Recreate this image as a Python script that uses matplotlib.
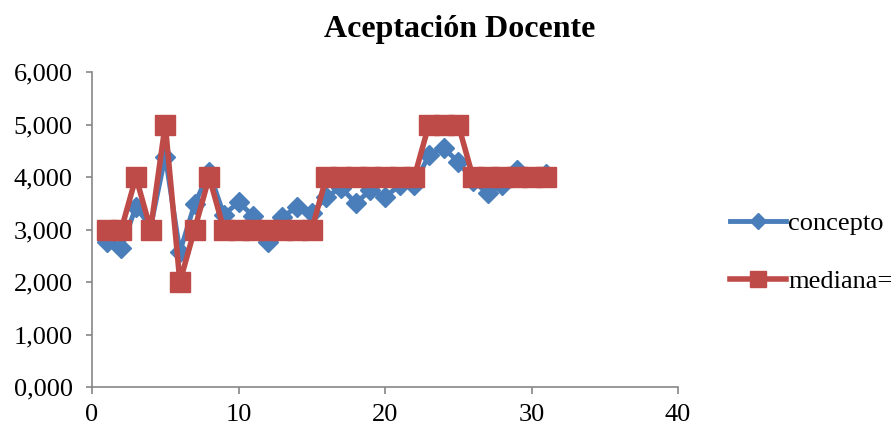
import matplotlib.pyplot as plt
from matplotlib.ticker import FuncFormatter

plt.rcParams['font.family'] = ['Liberation Serif', 'DejaVu Serif']

x = list(range(1, 32))
concepto = [2.77, 2.65, 3.43, 3.05, 4.39, 2.58, 3.48, 4.1, 3.28, 3.52, 3.26, 2.77,
            3.24, 3.43, 3.31, 3.62, 3.8, 3.5, 3.75, 3.62, 3.84, 3.85, 4.42, 4.55,
            4.29, 3.93, 3.69, 3.85, 4.13, 4.0, 4.05]
mediana = [3, 3, 4, 3, 5, 2, 3, 4, 3, 3, 3, 3, 3, 3, 3, 4, 4, 4, 4, 4, 4, 4,
           5, 5, 5, 4, 4, 4, 4, 4, 4]

fig = plt.figure(figsize=(8.96, 4.30), dpi=100)
ax = fig.add_axes([92/896, 43/430, 586/896, 315/430])

ax.plot(x, concepto, color='#4A7EBB', lw=3.5, marker='D', ms=10,
        label='concepto')
ax.plot(x, mediana, color='#BE4B48', lw=4, marker='s', ms=14,
        label='mediana=')

ax.set_xlim(0, 40)
ax.set_ylim(0, 6)
ax.set_xticks([0, 10, 20, 30, 40])
ax.set_yticks([0, 1, 2, 3, 4, 5, 6])
ax.yaxis.set_major_formatter(FuncFormatter(lambda v, p: f'{v:.3f}'.replace('.', ',')))
for s in ['top', 'right']:
    ax.spines[s].set_visible(False)
for s in ['left', 'bottom']:
    ax.spines[s].set_color('#868686')
    ax.spines[s].set_linewidth(1.2)
ax.tick_params(colors='#868686', labelcolor='black', labelsize=19, width=1.2)
ax.tick_params(axis='y', length=4, pad=10)
ax.tick_params(axis='x', length=5, pad=7)

fig.suptitle('Aceptación Docente', x=0.513, y=0.965, fontsize=23, fontweight='bold')
fig.legend(loc='center left', bbox_to_anchor=(0.815, 0.413), frameon=False,
           fontsize=19, labelspacing=1.3, handlelength=2.1, handletextpad=0.1,
           borderaxespad=0, borderpad=0, markerscale=0.85)

fig.savefig('out.png')
